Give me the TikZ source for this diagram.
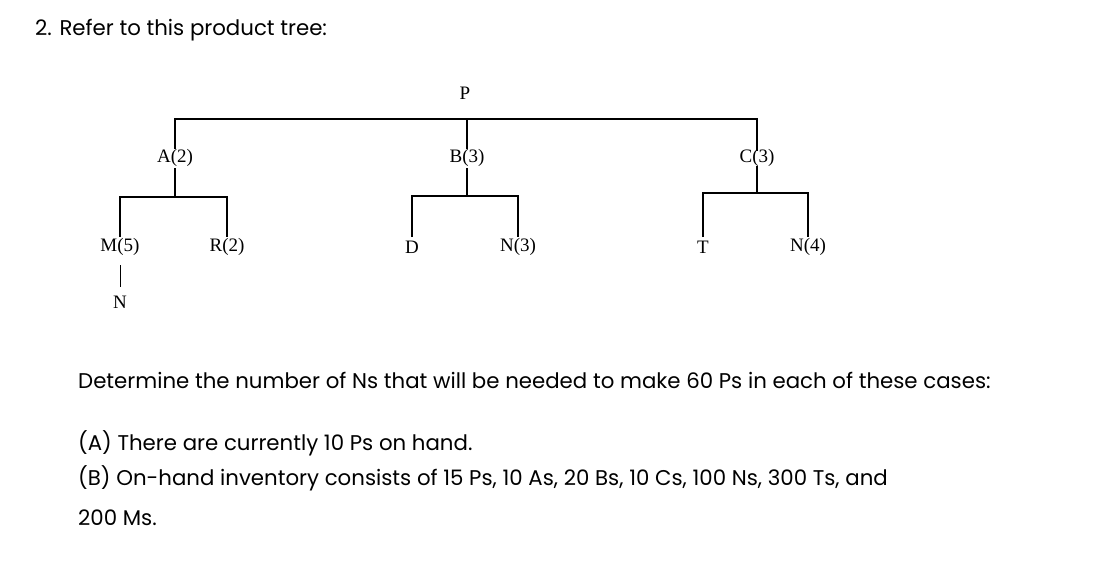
\documentclass[tikz,border=0pt]{standalone}
\usepackage{fontspec}
\setmainfont{Poppins}
\newfontfamily\treefont{Liberation Serif}
\begin{document}
\begin{tikzpicture}[x=1pt,y=-1pt,
  lbl/.style={font=\treefont\fontsize{19}{19}\selectfont,inner sep=1pt},
  txt/.style={font=\fontsize{21.3}{21.3}\selectfont,anchor=west,inner sep=0pt},
  ln/.style={line width=1.1pt}]
\useasboundingbox (0,0) rectangle (1102,562);
\node[txt] (t1) at (35,30) {2. Refer to this product tree:};
\node[lbl] (P) at (465,93) {P};
\node[lbl] (A) at (175,158) {A(2)};
\node[lbl] (B) at (467,158) {B(3)};
\node[lbl] (C) at (757,158) {C(3)};
\node[lbl] (M) at (120,247) {M(5)};
\node[lbl] (R) at (227,247) {R(2)};
\node[lbl] (D) at (412,247) {D};
\node[lbl] (N3) at (518,247) {N(3)};
\node[lbl] (T) at (703,247) {T};
\node[lbl] (N4) at (808,247) {N(4)};
\node[lbl] (N) at (120,302) {N};
\draw[ln] (A |- 0,149) -- (A |- 0,119) -| (C |- 0,151);
\draw[ln] (B |- 0,149) -- (B |- 0,119);
\draw[ln] (M |- 0,237) -- (M |- 0,197) -| (R |- 0,237);
\draw[ln] (A |- 0,168) -- (A |- 0,197);
\draw[ln] (D |- 0,237) -- (D |- 0,196) -| (N3 |- 0,237);
\draw[ln] (B |- 0,168) -- (B |- 0,196);
\draw[ln] (T |- 0,237) -- (T |- 0,193) -| (N4 |- 0,237);
\draw[ln] (C |- 0,166) -- (C |- 0,193);
\draw[line width=0.8pt] (M |- 0,265) -- (N |- 0,287);
\node[txt] (t2) at (78,380) {Determine the number of Ns that will be needed to make 60 Ps in each of these cases:};
\node[txt] (t3) at (78,443) {(A) There are currently 10 Ps on hand.};
\node[txt] (t4) at (78,478) {(B) On-hand inventory consists of 15 Ps, 10 As, 20 Bs, 10 Cs, 100 Ns, 300 Ts, and};
\node[txt] (t5) at (78,518) {200 Ms.};
\end{tikzpicture}
\end{document}
